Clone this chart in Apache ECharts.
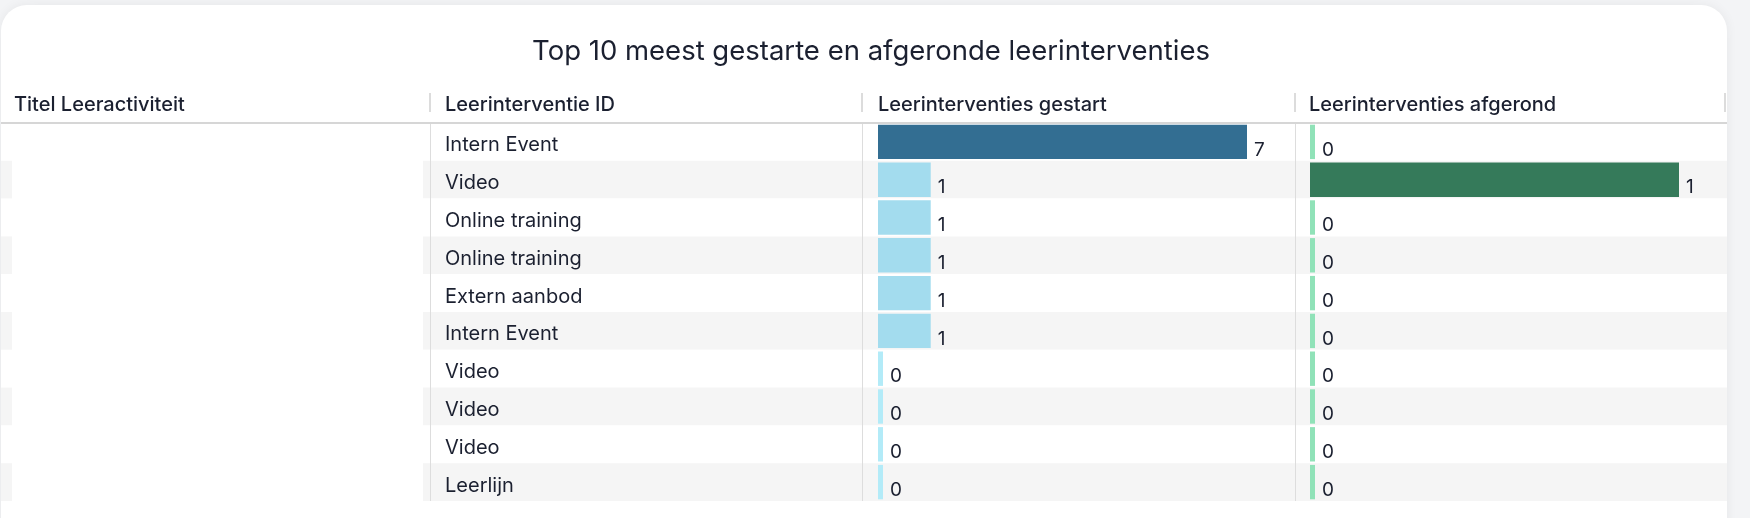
<!DOCTYPE html>
<html>
<head>
<meta charset="utf-8">
<script src="https://cdn.jsdelivr.net/npm/echarts@6/dist/echarts.min.js"></script>
<style>
html,body{margin:0;padding:0;background:#f3f4f6;}
#c{width:1750px;height:518px;}
</style>
</head>
<body>
<div id="c"></div>
<script>
const chartTitle = 'Top 10 meest gestarte en afgeronde leerinterventies';
const columnHeaders = ['Titel Leeractiviteit', 'Leerinterventie ID', 'Leerinterventies gestart', 'Leerinterventies afgerond'];
const activityTitles = ['', '', '', '', '', '', '', '', '', ''];
const interventionIds = ['Intern Event', 'Video', 'Online training', 'Online training', 'Extern aanbod', 'Intern Event', 'Video', 'Video', 'Video', 'Leerlijn'];
const started = [7, 1, 1, 1, 1, 1, 0, 0, 0, 0];
const completed = [0, 1, 0, 0, 0, 0, 0, 0, 0, 0];

const FONT = 'Inter, "Noto Sans", sans-serif';
const TEXT = '#1b2030';
const TOP = 123, BOTTOM_Y = 501, H = BOTTOM_Y - TOP, W = 1750;

function colorFor(arr, dark, light, zero) {
  const mx = Math.max.apply(null, arr);
  return function (p) {
    if (p.value === mx && mx > 0) return dark;
    if (p.value === 0) return zero;
    return light;
  };
}

const chart = echarts.init(document.getElementById('c'), null, {renderer: 'canvas'});

const grids = [
  {left: 1, width: 11, top: TOP, height: H},
  {left: 423, right: W - 1727, top: TOP, height: H},
  {left: 878, right: W - 1247, top: TOP, height: H},
  {left: 1310, right: W - 1679, top: TOP, height: H}
];

function catAxis(gi, data, opts) {
  return Object.assign({
    type: 'category', gridIndex: gi, data: data, inverse: true,
    axisLine: {show: false}, axisTick: {show: false}, axisLabel: {show: false},
    splitLine: {show: false}, splitArea: {show: false}
  }, opts || {});
}
function valAxis(gi, max) {
  return {type: 'value', gridIndex: gi, min: 0, max: max, show: false, splitLine: {show: false}};
}

const headerX = [14, 445, 878, 1309];
const sepX = [430, 862, 1295, 1725];
const graphics = [
  {type: 'rect', z: -10, shape: {x: 1, y: 5, width: 1726, height: 560, r: 26},
   style: {fill: '#ffffff', shadowBlur: 12, shadowColor: 'rgba(0,0,0,0.06)'}},
  {type: 'line', z: 10, shape: {x1: 1, y1: 123, x2: 1727, y2: 123}, style: {stroke: '#c9c9c9', lineWidth: 1.5}}
];
columnHeaders.forEach((h, i) => {
  graphics.push({type: 'text', z: 10, x: headerX[i], y: 105,
    style: {text: h, font: '500 20px ' + FONT, fill: TEXT, textVerticalAlign: 'middle', verticalAlign: 'middle'}});
});
sepX.forEach((x) => {
  graphics.push({type: 'line', z: 10, shape: {x1: x, y1: 93, x2: x, y2: 112}, style: {stroke: '#dcdcdc', lineWidth: 2}});
});
sepX.slice(0, 3).forEach((x) => {
  graphics.push({type: 'line', z: 10, shape: {x1: x + 0.5, y1: 124, x2: x + 0.5, y2: BOTTOM_Y}, style: {stroke: '#dddddd', lineWidth: 1}});
});

const labelStyle = {show: true, position: 'right', distance: 7, offset: [0, 8],
  color: TEXT, fontFamily: FONT, fontSize: 19};

chart.setOption({
  animation: false,
  backgroundColor: '#f3f4f6',
  title: {text: chartTitle, left: 866, top: 33, textAlign: 'center',
    textStyle: {fontFamily: FONT, fontSize: 27.5, fontWeight: 400, color: TEXT}},
  graphic: graphics,
  grid: grids,
  xAxis: [valAxis(0, 1), valAxis(1, 1), valAxis(2, 'dataMax'), valAxis(3, 'dataMax')],
  yAxis: [
    catAxis(0, activityTitles, {splitArea: {show: true, areaStyle: {color: ['#ffffff', '#f5f5f5']}}}),
    catAxis(1, interventionIds, {
      splitArea: {show: true, areaStyle: {color: ['#ffffff', '#f5f5f5']}},
      axisLabel: {show: true, inside: true, margin: 22, color: TEXT, fontFamily: FONT, fontSize: 20,
        formatter: function (v) { return '{a|' + v + '}'; },
        rich: {a: {color: TEXT, fontFamily: FONT, fontSize: 20, padding: [7, 0, 0, 0]}}}
    }),
    catAxis(2, interventionIds),
    catAxis(3, interventionIds)
  ],
  series: [
    {type: 'bar', xAxisIndex: 2, yAxisIndex: 2, data: started, barCategoryGap: '9%', barMinHeight: 5,
     itemStyle: {color: colorFor(started, '#336e92', '#a3dcee', '#b3ebf8')}, label: labelStyle},
    {type: 'bar', xAxisIndex: 3, yAxisIndex: 3, data: completed, barCategoryGap: '9%', barMinHeight: 5,
     itemStyle: {color: colorFor(completed, '#357a5a', '#8fdcb4', '#90e2b8')}, label: labelStyle}
  ]
});
</script>
</body>
</html>
